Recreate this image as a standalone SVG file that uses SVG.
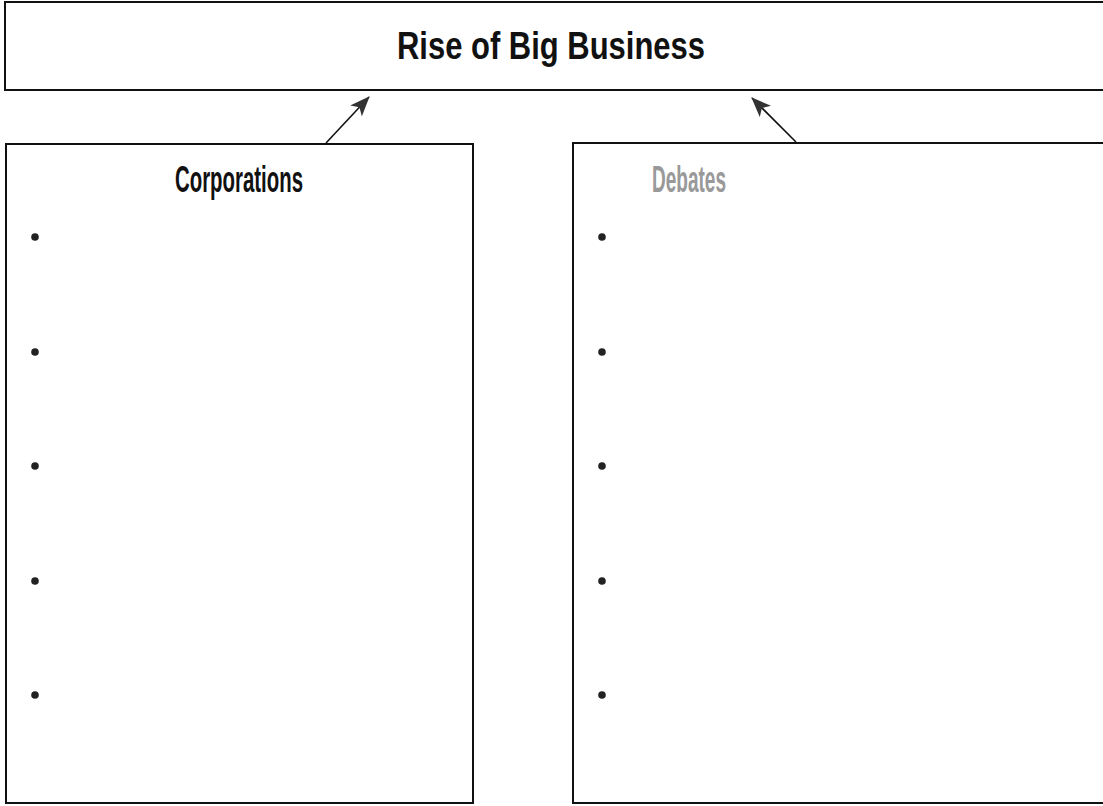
<svg xmlns="http://www.w3.org/2000/svg" width="1103" height="806" viewBox="0 0 1103 806">
<style>
.box{fill:#fff;stroke:#111;stroke-width:2}
.t{font-family:"Liberation Sans",Arial,sans-serif;font-weight:bold;fill:#111}
.dot{fill:#222}
.conn{stroke:#111;stroke-width:1.6;fill:none}
</style>
<defs>
<marker id="ah2" viewBox="0 0 20 16" refX="19" refY="8" markerWidth="20" markerHeight="16" markerUnits="userSpaceOnUse" orient="auto">
<path d="M0,0 L20,8 L0,16 L5,8 z" fill="#333"/>
</marker>
</defs>
<rect width="1103" height="806" fill="#fff"/>
<g id="title">
<rect class="box" x="5" y="2" width="1110" height="88"/>
<text class="t" x="397" y="59" font-size="39" textLength="308" lengthAdjust="spacingAndGlyphs">Rise of Big Business</text>
</g>
<g id="corporations">
<rect class="box" x="6" y="144" width="467" height="659"/>
<text class="t" x="175" y="192" font-size="37" textLength="128" lengthAdjust="spacingAndGlyphs">Corporations</text>
<circle class="dot" cx="35" cy="237" r="3.8"/>
<circle class="dot" cx="35" cy="352" r="3.8"/>
<circle class="dot" cx="35" cy="466" r="3.8"/>
<circle class="dot" cx="35" cy="581" r="3.8"/>
<circle class="dot" cx="35" cy="695" r="3.8"/>
</g>
<g id="debates">
<rect class="box" x="573" y="143" width="540" height="660"/>
<text class="t" x="652" y="192" font-size="37" textLength="74" lengthAdjust="spacingAndGlyphs" style="fill:#999">Debates</text>
<circle class="dot" cx="602" cy="237" r="3.8"/>
<circle class="dot" cx="602" cy="352" r="3.8"/>
<circle class="dot" cx="602" cy="466" r="3.8"/>
<circle class="dot" cx="602" cy="581" r="3.8"/>
<circle class="dot" cx="602" cy="695" r="3.8"/>
</g>
<g id="connectors">
<line class="conn" x1="326" y1="143" x2="369" y2="97" marker-end="url(#ah2)"/>
<line class="conn" x1="796" y1="142" x2="752" y2="98" marker-end="url(#ah2)"/>
</g>
</svg>
